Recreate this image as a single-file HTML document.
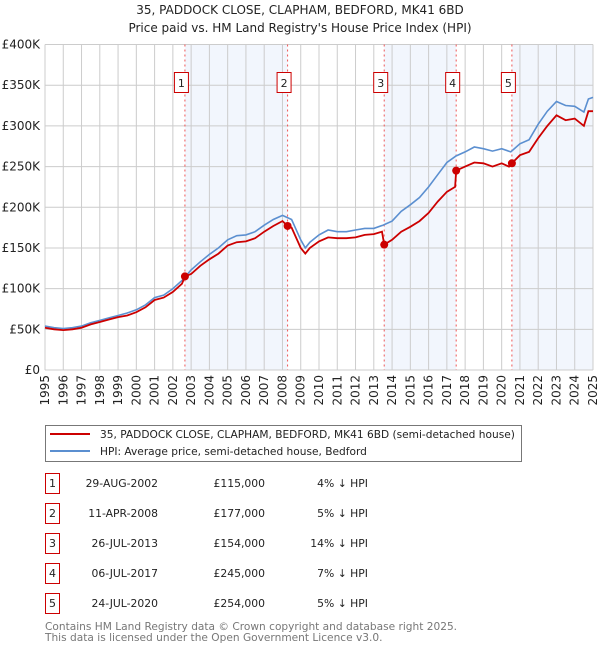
<!DOCTYPE html>
<html><head><meta charset="utf-8"><style>
body{margin:0;background:#fff;}
svg text{font-family:"DejaVu Sans","Liberation Sans",sans-serif;}
</style></head><body>
<svg id="chart" width="600" height="650" xmlns="http://www.w3.org/2000/svg">
<text x="300" y="14" font-size="12" text-anchor="middle" fill="#222">35, PADDOCK CLOSE, CLAPHAM, BEDFORD, MK41 6BD</text>
<text x="300" y="32" font-size="12" text-anchor="middle" fill="#222">Price paid vs. HM Land Registry's House Price Index (HPI)</text>
<g id="bands"></g><g id="grid"></g><g id="axes"></g><g id="vlines"></g><g id="series"></g><g id="markers"></g>
<g>
<rect x="45.5" y="425.5" width="476" height="36" fill="#fff" stroke="#777"/>
<line x1="50" y1="434" x2="90" y2="434" stroke="#cc0000" stroke-width="2"/>
<text x="100" y="438" font-size="10.6" fill="#222">35, PADDOCK CLOSE, CLAPHAM, BEDFORD, MK41 6BD (semi-detached house)</text>
<line x1="50" y1="451" x2="90" y2="451" stroke="#5b8fd0" stroke-width="2"/>
<text x="100" y="455" font-size="10.6" fill="#222">HPI: Average price, semi-detached house, Bedford</text>
</g>
<g id="table"></g>
<text x="45" y="630" font-size="10.6" fill="#777">Contains HM Land Registry data © Crown copyright and database right 2025.</text>
<text x="45" y="641" font-size="10.6" fill="#777">This data is licensed under the Open Government Licence v3.0.</text>
</svg>
<script>
const yTicks=[0,50,100,150,200,250,300,350,400];
const yTickLabels=["£0","£50K","£100K","£150K","£200K","£250K","£300K","£350K","£400K"];
const xYears=[1995,1996,1997,1998,1999,2000,2001,2002,2003,2004,2005,2006,2007,2008,2009,2010,2011,2012,2013,2014,2015,2016,2017,2018,2019,2020,2021,2022,2023,2024,2025];
const hpiDates=[1995,1995.5,1996,1996.5,1997,1997.5,1998,1998.5,1999,1999.5,2000,2000.5,2001,2001.5,2002,2002.5,2003,2003.5,2004,2004.5,2005,2005.5,2006,2006.5,2007,2007.5,2008,2008.5,2009,2009.25,2009.5,2010,2010.5,2011,2011.5,2012,2012.5,2013,2013.5,2014,2014.5,2015,2015.5,2016,2016.5,2017,2017.5,2018,2018.5,2019,2019.5,2020,2020.5,2021,2021.5,2022,2022.5,2023,2023.5,2024,2024.5,2024.75,2025];
const hpiValues=[54,52,51,52,54,58,61,64,67,70,74,80,89,92,100,110,123,133,142,150,160,165,166,170,178,185,190,185,160,150,157,166,172,170,170,172,174,174,178,183,195,203,212,225,240,255,263,268,274,272,269,272,268,278,283,302,318,330,325,324,317,333,335];
const ppDates=[1995,1995.5,1996,1996.5,1997,1997.5,1998,1998.5,1999,1999.5,2000,2000.5,2001,2001.5,2002,2002.5,2002.66,2003,2003.5,2004,2004.5,2005,2005.5,2006,2006.5,2007,2007.5,2008,2008.28,2008.5,2009,2009.25,2009.5,2010,2010.5,2011,2011.5,2012,2012.5,2013,2013.45,2013.57,2014,2014.5,2015,2015.5,2016,2016.5,2017,2017.45,2017.51,2018,2018.5,2019,2019.5,2020,2020.4,2020.56,2021,2021.5,2022,2022.5,2023,2023.5,2024,2024.5,2024.75,2025];
const ppValues=[52,50,49,50,52,56,59,62,65,67,71,77,86,89,96,106,115,118,128,136,143,153,157,158,162,170,177,183,177,175,150,143,150,158,163,162,162,163,166,167,170,154,160,170,176,183,193,207,219,225,245,250,255,254,250,254,250,254,264,268,285,300,313,307,309,300,318,318];
const saleDates=[2002.66,2008.28,2013.57,2017.51,2020.56];
const saleValues=[115,177,154,245,254];
const saleLabels=["1","2","3","4","5"];
const saleDateText=["29-AUG-2002","11-APR-2008","26-JUL-2013","06-JUL-2017","24-JUL-2020"];
const salePriceText=["£115,000","£177,000","£154,000","£245,000","£254,000"];
const salePctText=["4% ↓ HPI","5% ↓ HPI","14% ↓ HPI","7% ↓ HPI","5% ↓ HPI"];

const NS="http://www.w3.org/2000/svg";
const X0=45,X1=593,Y0=370,Y1=44.5;
function xs(t){return X0+(t-1995)/30*(X1-X0);}
function ys(v){return Y0-v/400*(Y0-Y1);}
function mk(tag,attrs,parent){const e=document.createElementNS(NS,tag);for(const k in attrs)e.setAttribute(k,attrs[k]);parent.appendChild(e);return e;}
const bands=document.getElementById('bands'),grid=document.getElementById('grid'),axes=document.getElementById('axes'),vl=document.getElementById('vlines'),ser=document.getElementById('series'),mks=document.getElementById('markers'),tbl=document.getElementById('table');
mk('rect',{x:X0,y:Y1,width:X1-X0,height:Y0-Y1,fill:'#fff'},bands);
const bandPairs=[[0,1],[2,3],[4,null]];
bandPairs.forEach(p=>{const a=xs(saleDates[p[0]]),b=p[1]===null?X1:xs(saleDates[p[1]]);
const r=mk('rect',{x:a,y:Y1,width:b-a,height:Y0-Y1,fill:'#f2f6fd'},bands);

});
yTicks.forEach((v,i)=>{const y=ys(v);
const l=mk('line',{x1:X0,x2:X1,y1:y,y2:y,stroke:'#ccc','stroke-width':1},grid);


const t=mk('text',{x:X0-5,y:y+4,'font-size':12,'text-anchor':'end',fill:'#222'},axes);
t.textContent=yTickLabels[i];

});
xYears.forEach(yr=>{const x=xs(yr);
const l=mk('line',{x1:x,x2:x,y1:Y1,y2:Y0,stroke:'#ccc','stroke-width':1},grid);


const t=mk('text',{x:0,y:0,'font-size':12,'text-anchor':'end',fill:'#222',transform:`translate(${x+4},${Y0+5}) rotate(-90)`},axes);
t.textContent=yr;

});
saleDates.forEach((d,i)=>{const x=xs(d);
const l=mk('line',{x1:x,x2:x,y1:Y1,y2:Y0,stroke:'#ee5555','stroke-width':1,'stroke-dasharray':'2,3'},vl);


const r=mk('rect',{x:x-10.5,y:72.5,width:14,height:20,fill:'#fff',stroke:'#cc0000'},vl);


const t=mk('text',{x:x-3.5,y:87,'font-size':11,'text-anchor':'middle',fill:'#222'},vl);
t.textContent=saleLabels[i];

});
function path(ds,vs){return ds.map((d,i)=>(i?'L':'M')+xs(d).toFixed(1)+','+ys(vs[i]).toFixed(1)).join('');}
const h=mk('path',{d:path(hpiDates,hpiValues),fill:'none',stroke:'#5b8fd0','stroke-width':1.6},ser);


const p=mk('path',{d:path(ppDates,ppValues),fill:'none',stroke:'#cc0000','stroke-width':1.8},ser);


saleDates.forEach((d,i)=>{const c=mk('circle',{cx:xs(d),cy:ys(saleValues[i]),r:4,fill:'#cc0000'},mks);

});
mk('line',{x1:X0,x2:X0,y1:Y1,y2:Y0,stroke:'#ccc'},axes);
saleLabels.forEach((s,i)=>{const cy=483+i*30;
const g=mk('g',{},tbl);


mk('rect',{x:45.5,y:cy-9.5,width:14,height:20,fill:'#fff',stroke:'#cc0000'},g);
const a=mk('text',{x:52.5,y:cy+4,'font-size':11,'text-anchor':'middle',fill:'#222'},g);a.textContent=s;
const b=mk('text',{x:158,y:cy+4,'font-size':10.8,'text-anchor':'end',fill:'#222'},g);b.textContent=saleDateText[i];
const c=mk('text',{x:265,y:cy+4,'font-size':10.8,'text-anchor':'end',fill:'#222'},g);c.textContent=salePriceText[i];
const e=mk('text',{x:368,y:cy+4,'font-size':10.8,'text-anchor':'end',fill:'#222'},g);e.textContent=salePctText[i];});
</script>
</body></html>
